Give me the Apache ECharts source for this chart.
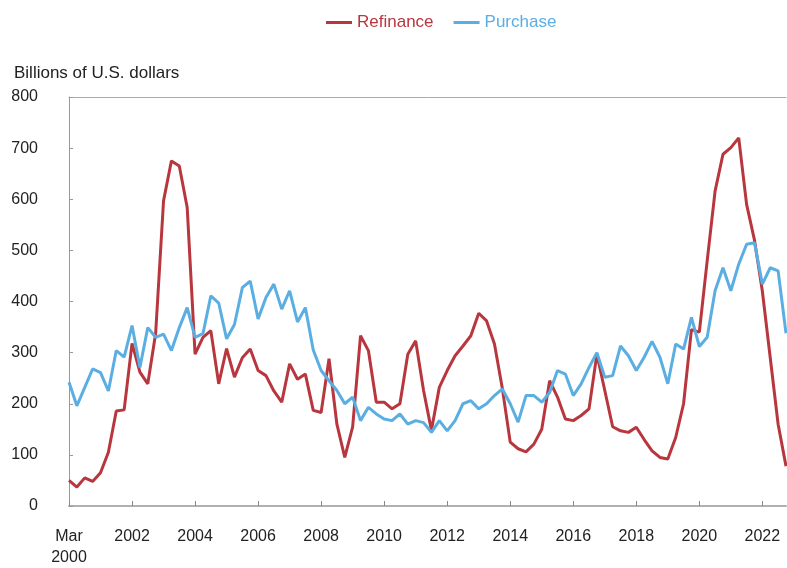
<!DOCTYPE html>
<html>
<head>
<meta charset="utf-8">
<script src="https://cdn.jsdelivr.net/npm/echarts@6/dist/echarts.min.js"></script>
<style>
html,body{margin:0;padding:0;background:#fff;}
#chart{width:787px;height:568px;}
</style>
</head>
<body>
<div id="chart"></div>
<script>
// Quarterly categories, Mar 2000 .. Dec 2022
var months = ['Mar', 'Jun', 'Sep', 'Dec'];
var categories = [];
for (var y = 2000; y <= 2022; y++) {
  for (var q = 0; q < 4; q++) categories.push(months[q] + ' ' + y);
}

var tickLabels = ['Mar\n2000', '2002', '2004', '2006', '2008', '2010', '2012', '2014', '2016', '2018', '2020', '2022'];

var refinance = [
  50, 37, 55, 48, 65, 105, 186, 188,
  318, 262, 239, 338, 597, 675, 665, 584,
  297, 330, 343, 239, 308, 252, 290, 307,
  265, 255, 225, 203, 278, 248, 258, 187,
  183, 288, 160, 95, 155, 333, 304, 203,
  203, 190, 200, 297, 323, 226, 148, 232,
  265, 294, 313, 333, 377, 362, 317, 230,
  125, 112, 106, 121, 150, 245, 213, 170,
  167, 177, 190, 297, 226, 155, 147, 144,
  154, 130, 108, 95, 92, 134, 200, 345,
  340, 480, 616, 688, 701, 720, 590, 520,
  420, 290, 160, 78
];

var purchase = [
  242, 196, 232, 268, 261, 225, 304, 291,
  353, 271, 349, 330, 336, 304, 349, 388,
  330, 337, 411, 397, 327, 355, 427, 440,
  366, 408, 434, 385, 421, 360, 388, 305,
  265, 245, 226, 200, 213, 167, 193, 180,
  170, 167, 180, 160, 167, 163, 144, 167,
  147, 167, 200, 206, 190, 200, 216, 229,
  200, 164, 216, 216, 203, 222, 265, 258,
  216, 239, 271, 300, 252, 255, 313, 294,
  265, 291, 322, 291, 239, 317, 307, 369,
  312, 330, 421, 466, 421, 473, 512, 515,
  434, 466, 460, 338
];

var RED = '#b8363e';
var BLUE = '#5aaee2';
var FONT = 'Liberation Sans, Arial, sans-serif';

var chart = echarts.init(document.getElementById('chart'));
chart.setOption({
  animation: false,
  backgroundColor: '#ffffff',
  title: {
    text: 'Billions of U.S. dollars',
    left: 9,
    top: 60,
    textStyle: { fontFamily: FONT, fontSize: 17, fontWeight: 'normal', color: '#222' }
  },
  legend: {
    top: 9,
    left: 321,
    itemGap: 20,
    itemWidth: 26,
    itemHeight: 3,
    icon: 'rect',
    textStyle: { fontFamily: FONT, fontSize: 17 },
    data: [
      { name: 'Refinance', textStyle: { color: RED } },
      { name: 'Purchase', textStyle: { color: BLUE } }
    ]
  },
  grid: { left: 69, right: 1, top: 97, bottom: 62, containLabel: false },
  xAxis: [{
    type: 'category',
    data: categories,
    boundaryGap: false,
    axisLine: { lineStyle: { color: '#b0b0b0', width: 2 } },
    axisTick: {
      inside: true, length: 5, interval: function (i) { return i % 8 === 0; },
      lineStyle: { color: '#888', width: 1 }
    },
    axisLabel: {
      interval: function (i) { return i % 8 === 0; },
      formatter: function (v, i) { return tickLabels[i / 8] || ''; },
      margin: 20,
      fontFamily: FONT, fontSize: 16, color: '#222', lineHeight: 21
    },
    splitLine: { show: false }
  }, {
    type: 'category',
    data: categories,
    position: 'top',
    boundaryGap: false,
    axisLine: { lineStyle: { color: '#aaa', width: 1 } },
    axisTick: { show: false },
    axisLabel: { show: false }
  }],
  yAxis: {
    type: 'value',
    min: 0, max: 800, interval: 100,
    axisLine: { show: true, lineStyle: { color: '#999', width: 1 } },
    axisTick: { show: true, inside: true, length: 4, lineStyle: { color: '#999' } },
    axisLabel: { margin: 31, fontFamily: FONT, fontSize: 16, color: '#222' },
    splitLine: { show: false }
  },
  series: [{
    name: 'Refinance',
    type: 'line',
    data: refinance,
    showSymbol: false,
    lineStyle: { color: RED, width: 3 },
    itemStyle: { color: RED }
  }, {
    name: 'Purchase',
    type: 'line',
    data: purchase,
    showSymbol: false,
    lineStyle: { color: BLUE, width: 3 },
    itemStyle: { color: BLUE }
  }]
});
</script>
</body>
</html>
